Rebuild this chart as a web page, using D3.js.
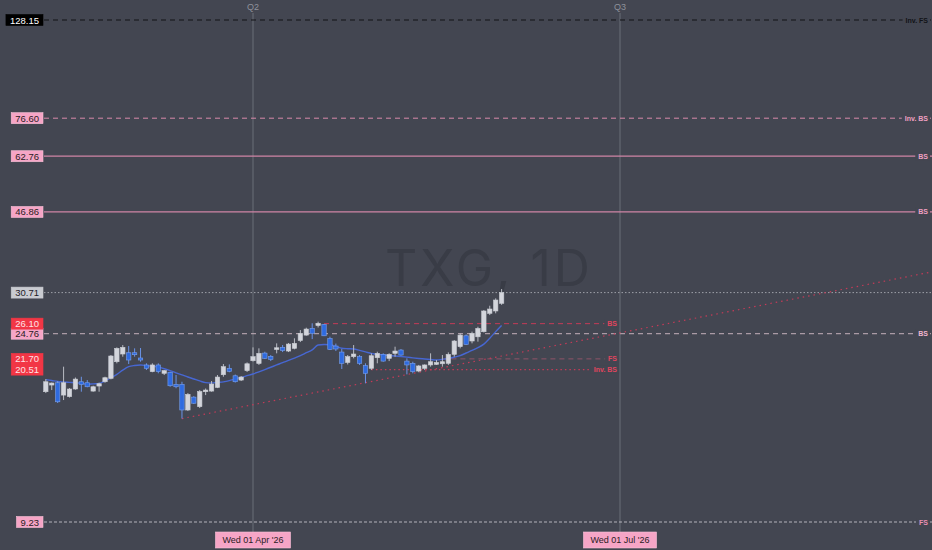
<!DOCTYPE html>
<html>
<head>
<meta charset="utf-8">
<script src="https://cdn.jsdelivr.net/npm/d3@7"></script>
<style>
  html, body { margin: 0; padding: 0; background: #434651; }
  svg { display: block; }
</style>
</head>
<body>
<div id="chart"></div>
<script>
const width = 932;
const height = 550;

// daily candles, index 0..77 (index 35 = Wed 01 Apr '26)
const opens = [18.27, 18.92, 19.15, 17.95, 17.80, 18.53, 19.25, 19.15, 18.33, 18.82,
  19.25, 19.59, 21.38, 22.26, 22.41, 22.41, 21.80, 21.02, 20.29, 21.02,
  20.12, 20.23, 18.99, 18.99, 16.60, 17.76, 16.89, 18.27, 18.33, 18.68,
  19.97, 20.65, 19.86, 19.42, 20.40, 21.49, 21.18, 22.37, 21.99, 22.79,
  23.05, 22.61, 22.93, 23.89, 24.58, 25.46, 25.84, 25.99, 24.14, 23.21,
  22.49, 21.29, 21.95, 21.95, 20.94, 20.65, 21.83, 22.22, 21.76, 22.34,
  22.73, 21.45, 21.20, 20.36, 20.65, 21.02, 21.08, 21.15, 21.20, 22.22,
  23.13, 24.49, 23.83, 24.36, 25.02, 27.55, 27.89, 29.03];
const highs = [19.52, 19.17, 19.32, 20.83, 18.62, 19.68, 19.76, 19.42, 18.85, 19.15,
  19.76, 22.14, 23.05, 23.33, 23.21, 22.93, 22.97, 21.20, 21.20, 21.20,
  20.47, 20.29, 19.94, 19.25, 18.14, 17.85, 18.43, 18.58, 19.32, 19.94,
  21.12, 21.08, 19.99, 19.83, 21.30, 23.05, 22.93, 22.53, 22.14, 23.54,
  23.33, 23.58, 24.17, 25.24, 25.55, 26.15, 26.37, 26.05, 24.37, 23.51,
  22.85, 22.14, 23.33, 22.14, 21.20, 22.34, 22.53, 22.34, 22.34, 23.13,
  22.85, 21.76, 21.38, 21.02, 21.08, 22.34, 21.57, 22.14, 22.45, 23.95,
  24.81, 24.67, 25.03, 25.68, 28.03, 28.67, 29.80, 31.29];
const lows = [18.14, 18.43, 17.22, 17.49, 17.72, 18.46, 18.27, 18.70, 18.27, 18.27,
  19.15, 19.49, 21.20, 21.95, 21.12, 21.95, 21.38, 20.47, 20.23, 20.12,
  19.94, 18.75, 18.60, 15.87, 16.51, 17.13, 16.77, 17.95, 18.27, 18.62,
  19.76, 20.23, 19.17, 19.32, 20.26, 21.40, 21.02, 21.68, 21.45, 22.34,
  22.49, 22.49, 22.81, 23.70, 24.50, 24.07, 25.58, 24.45, 22.73, 22.61,
  20.58, 21.07, 21.76, 21.02, 19.09, 20.47, 21.20, 21.38, 21.45, 21.95,
  22.06, 20.01, 20.12, 20.23, 20.47, 20.83, 21.02, 20.83, 21.02, 21.95,
  22.93, 23.33, 23.54, 23.75, 24.92, 27.30, 27.55, 28.80];
const closes = [19.25, 19.12, 17.33, 19.15, 18.53, 19.52, 18.99, 18.75, 18.75, 19.05,
  19.66, 22.03, 22.93, 23.05, 21.57, 22.18, 21.57, 20.65, 21.02, 20.29,
  20.40, 18.85, 18.75, 16.60, 18.02, 17.20, 18.29, 18.43, 19.02, 19.73,
  20.83, 20.33, 19.25, 19.73, 21.15, 21.95, 22.34, 21.76, 21.63, 23.00,
  22.67, 23.45, 23.54, 24.81, 25.37, 24.81, 26.15, 24.49, 22.81, 22.85,
  21.20, 21.95, 22.26, 21.20, 20.12, 22.06, 22.34, 21.45, 22.22, 22.61,
  22.14, 21.02, 20.29, 20.91, 21.02, 21.38, 21.30, 21.38, 22.22, 23.83,
  24.58, 23.41, 24.81, 25.46, 27.89, 28.18, 29.54, 30.71];
const ma = [19.46, 19.37, 19.28, 19.23, 19.19, 19.15, 19.10, 18.99, 19.04, 19.08,
  19.32, 19.65, 20.01, 20.46, 20.83, 20.96, 21.01, 20.95, 20.87, 20.78,
  20.61, 20.40, 20.17, 19.95, 19.73, 19.53, 19.33, 19.16, 19.12, 19.18,
  19.24, 19.36, 19.53, 19.69, 19.87, 20.05, 20.28, 20.52, 20.77, 21.02,
  21.28, 21.52, 21.79, 22.07, 22.41, 22.75, 23.33, 23.40, 23.36, 23.17,
  22.94, 22.89, 22.86, 22.69, 22.51, 22.32, 22.22, 22.14, 22.08, 22.03,
  21.97, 21.90, 21.82, 21.75, 21.69, 21.63, 21.57, 21.65, 21.74, 21.89,
  22.07, 22.38, 22.68, 23.01, 23.44, 24.18, 25.03, 25.86];

// full width levels
const levelPrices = [128.15, 76.60, 62.76, 46.86, 24.76, 9.23];
const levelTags = ["Inv. FS", "Inv. BS", "BS", "BS", "BS", "FS"];
const levelKinds = ["black", "pinkDash", "pinkSolid", "pinkSolid", "greyDash", "fine"];

// short levels (from a bar to the end index)
const segPrices = [26.10, 21.70, 20.51];
const segTags = ["BS", "FS", "Inv. BS"];
const segKinds = ["redDash", "dimDash", "redDot"];
const segStart = [47, 67, 55];
const segEnd = 96.5;

// trend line through two lows
const trendIdx = [23, 63];
const trendPrice = [15.87, 20.23];

// time axis
const quarterIdx = [35, 97];
const quarterLabels = ["Q2", "Q3"];
const dateLabels = ["Wed 01 Apr '26", "Wed 01 Jul '26"];

const symbolText = "TXG, 1D";

const bg = "#434651";
const pink = "#f6a5c6";
const red = "#f23645";
const font = "'Liberation Sans', Arial, sans-serif";

const lineStyles = {
  black: { stroke: "#121317", dash: "5,4", width: 1, right: "#121317" },
  pinkDash: { stroke: "#d98aaa", dash: "5,4", width: 1, right: "#f0a0c2" },
  pinkSolid: { stroke: "#cf85a6", dash: null, width: 1.3, right: "#f0a0c2" },
  greyDash: { stroke: "#c6b0bc", dash: "5,4", width: 1, right: "#f0b6cf" },
  fine: { stroke: "#d0ced6", dash: "3,2", width: 0.8, right: "#e890b4" },
  redDash: { stroke: "#c43b58", dash: "5,4", width: 1, right: "#e0455e" },
  dimDash: { stroke: "#8f5468", dash: "5,4", width: 1, right: "#e0455e" },
  redDot: { stroke: "#c43b58", dash: "1.5,3", width: 1.2, right: "#e0455e" },
};

const x = d3.scaleLinear().domain([quarterIdx[0], quarterIdx[1]]).range([253, 620]);
const y = d3.scaleLog().domain([levelPrices[5], levelPrices[0]]).range([522, 20]);

const svg = d3.select("#chart")
  .append("svg")
  .attr("width", width)
  .attr("height", height)
  .style("font-family", font);

svg.append("rect").attr("width", width).attr("height", height).attr("fill", bg);

// watermark
svg.append("text")
  .attr("x", 489)
  .attr("y", 268)
  .attr("text-anchor", "middle")
  .attr("dominant-baseline", "central")
  .attr("font-size", 50)
  .attr("letter-spacing", 3)
  .attr("fill", "#393c46")
  .style("font-family", "Inter, Roboto, sans-serif")
  .text(symbolText);

// quarter grid + labels
quarterIdx.forEach((q, i) => {
  svg.append("line")
    .attr("x1", x(q)).attr("x2", x(q))
    .attr("y1", 13).attr("y2", 532)
    .attr("stroke", "#6b6e79").attr("stroke-width", 1);
  svg.append("text")
    .attr("x", x(q)).attr("y", 10)
    .attr("text-anchor", "middle")
    .attr("font-size", 9)
    .attr("fill", "#8e919b")
    .text(quarterLabels[i]);
});

// last price line
const lastPrice = closes[closes.length - 1];
svg.append("line")
  .attr("x1", 44).attr("x2", width)
  .attr("y1", y(lastPrice)).attr("y2", y(lastPrice))
  .attr("stroke", "#9ea0a8").attr("stroke-width", 1)
  .attr("stroke-dasharray", "1.5,2");

// full-width levels
levelPrices.forEach((p, i) => {
  const st = lineStyles[levelKinds[i]];
  svg.append("line")
    .attr("x1", 44).attr("x2", width)
    .attr("y1", y(p)).attr("y2", y(p))
    .attr("stroke", st.stroke).attr("stroke-width", st.width)
    .attr("stroke-dasharray", st.dash);
});

// short levels
segPrices.forEach((p, i) => {
  const st = lineStyles[segKinds[i]];
  svg.append("line")
    .attr("x1", x(segStart[i])).attr("x2", x(segEnd))
    .attr("y1", y(p)).attr("y2", y(p))
    .attr("stroke", st.stroke).attr("stroke-width", st.width)
    .attr("stroke-dasharray", st.dash);
});

// trend line, extended to the right edge (straight in screen space)
const tx0 = x(trendIdx[0]), ty0 = y(trendPrice[0]);
const slope = (y(trendPrice[1]) - ty0) / (x(trendIdx[1]) - tx0);
svg.append("line")
  .attr("x1", tx0).attr("y1", ty0)
  .attr("x2", width).attr("y2", ty0 + slope * (width - tx0))
  .attr("stroke", lineStyles.redDot.stroke)
  .attr("stroke-width", 1.2)
  .attr("stroke-dasharray", "1.5,4");

// right-hand line tags
function rightTag(px, py, text, color) {
  const t = svg.append("text")
    .attr("x", px).attr("y", py)
    .attr("text-anchor", "end")
    .attr("dominant-baseline", "central")
    .attr("font-size", 7)
    .attr("font-weight", 700)
    .attr("fill", color)
    .text(text);
  const w = t.node().getComputedTextLength();
  svg.insert("rect", () => t.node())
    .attr("x", px - w - 3).attr("y", py - 4)
    .attr("width", w + 5).attr("height", 8)
    .attr("fill", bg);
}

levelPrices.forEach((p, i) => {
  rightTag(928, y(p), levelTags[i], lineStyles[levelKinds[i]].right);
});
segPrices.forEach((p, i) => {
  rightTag(x(segEnd), y(p), segTags[i], lineStyles[segKinds[i]].right);
});

// moving average
const maLine = d3.line()
  .x((d, i) => x(i))
  .y((d) => y(d))
  .curve(d3.curveMonotoneX);
svg.append("path")
  .datum(ma)
  .attr("fill", "none")
  .attr("stroke", "#4767d2")
  .attr("stroke-width", 1.4)
  .attr("d", maLine);

// candles
const bodyW = 4.4;
const candles = svg.append("g");
opens.forEach((o, i) => {
  const c = closes[i];
  const up = c >= o;
  const cx = x(i);
  candles.append("line")
    .attr("x1", cx).attr("x2", cx)
    .attr("y1", y(highs[i])).attr("y2", y(lows[i]))
    .attr("stroke", up ? "#b8bbc3" : "#6b93e6")
    .attr("stroke-width", 1);
  const top = y(Math.max(o, c));
  const bot = y(Math.min(o, c));
  candles.append("rect")
    .attr("x", cx - bodyW / 2)
    .attr("y", top)
    .attr("width", bodyW)
    .attr("height", Math.max(1.2, bot - top))
    .attr("fill", up ? "#d3d5dc" : "#2f6be0")
    .attr("stroke", up ? "#c9ccd3" : "#7aa0ea")
    .attr("stroke-width", 0.6);
});

// left price tags
function leftTag(prices, bgc, fg) {
  const g = svg.append("g");
  const texts = prices.map((p) => g.append("text")
    .attr("x", 26).attr("y", y(p))
    .attr("text-anchor", "middle")
    .attr("dominant-baseline", "central")
    .attr("font-size", 9.5)
    .attr("fill", fg)
    .text(p.toFixed(2)));
  const w = d3.max(texts, (t) => t.node().getComputedTextLength());
  const right = 43;
  const left = right - w - 8;
  texts.forEach((t) => t.attr("x", (left + right) / 2));
  const top = y(prices[0]) - 5.5;
  const bottom = y(prices[prices.length - 1]) + 5.5;
  g.insert("rect", ":first-child")
    .attr("x", left).attr("y", top)
    .attr("width", right - left).attr("height", bottom - top)
    .attr("fill", bgc)
    .attr("stroke", bgc === pink ? "#f9c0d8" : bgc)
    .attr("stroke-width", 0.6);
}

leftTag([levelPrices[0]], "#000000", "#ffffff");
leftTag([levelPrices[1]], pink, "#2a1c24");
leftTag([levelPrices[2]], pink, "#2a1c24");
leftTag([levelPrices[3]], pink, "#2a1c24");
leftTag([lastPrice], "#c9cbd1", "#1e2028");
leftTag([levelPrices[4]], pink, "#2a1c24");
leftTag([segPrices[0]], red, "#ffe3e6");
leftTag([segPrices[1], segPrices[2]], red, "#ffe3e6");
leftTag([levelPrices[5]], pink, "#2a1c24");

// bottom date tags
quarterIdx.forEach((q, i) => {
  const t = svg.append("text")
    .attr("x", x(q)).attr("y", 540)
    .attr("text-anchor", "middle")
    .attr("dominant-baseline", "central")
    .attr("font-size", 9)
    .attr("fill", "#2a1c24")
    .text(dateLabels[i]);
  const w = t.node().getComputedTextLength();
  svg.insert("rect", () => t.node())
    .attr("x", x(q) - w / 2 - 7).attr("y", 532)
    .attr("width", w + 14).attr("height", 16)
    .attr("fill", pink)
    .attr("stroke", "#f9c0d8").attr("stroke-width", 0.6);
});
</script>
</body>
</html>
